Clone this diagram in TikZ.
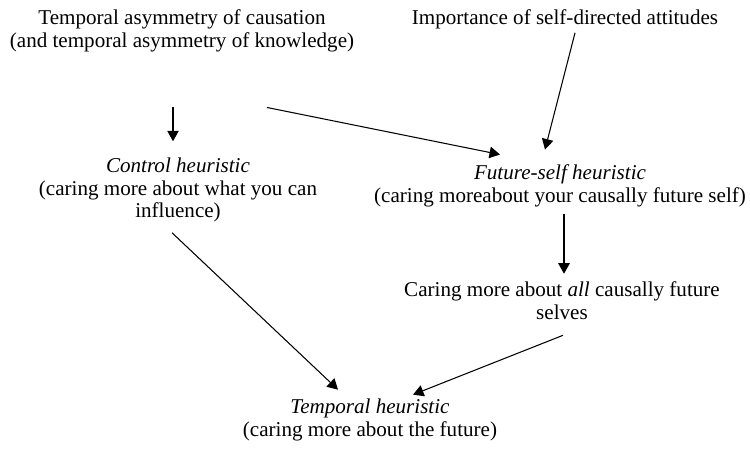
\documentclass[tikz,border=0pt]{standalone}
\usepackage{fontspec}
\setmainfont{Liberation Serif}
\usetikzlibrary{arrows.meta,calc}

\begin{document}
\begin{tikzpicture}[x=0.02cm, y=-0.02cm,
    lbl/.style={align=center, inner sep=0pt, font=\fontsize{12}{13}\selectfont},
    arr/.style={-{Triangle[length=2.1mm,width=2.3mm]}, line width=0.6pt}]
        \useasboundingbox (0,0) rectangle (750,451);
        % nodes
        \node[lbl] (cause) at (182,31) {Temporal asymmetry of causation\\(and temporal asymmetry of knowledge)};
        \node[lbl, anchor=base] (selfatt) at (565,24) {Importance of self-directed attitudes};
        \node[lbl] (control) at (178,190) {\textit{Control heuristic}\\(caring more about what you can\\influence)};
        \node[lbl] (futself) at (560,186) {\textit{Future-self heuristic}\\(caring moreabout your causally future self)};
        \node[lbl] (allself) at (562,301) {Caring more about \textit{all} causally future\\selves};
        \node[lbl] (temporal) at (370,420) {\textit{Temporal heuristic}\\(caring more about the future)};
        % arrows
        \draw[arr] ($(cause.south)+(-9,55)$) -- ($(control.north)+(-5,-16)$);
        \draw[arr] ($(cause.south)+(85,55)$) -- ($(futself.north)+(-60,-10)$);
        \draw[arr] ($(selfatt.south)+(10,4)$) -- ($(futself.north)+(-15,-15)$);
        \draw[arr] ($(futself.south)+(4,7)$) -- ($(allself.north)+(2,-8)$);
        \draw[arr] ($(control.south)+(-6,10)$) -- ($(temporal.north)+(-32,-9)$);
        \draw[arr] ($(allself.south)+(1,15)$) -- ($(temporal.north)+(43,-4)$);
\end{tikzpicture}
\end{document}
